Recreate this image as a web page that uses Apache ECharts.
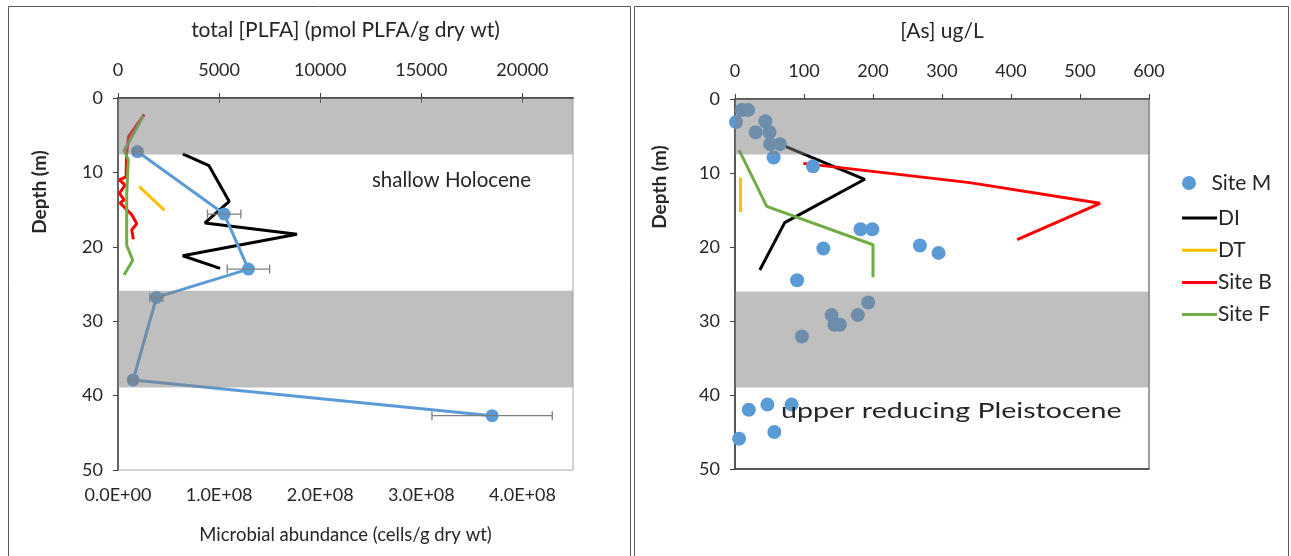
<!DOCTYPE html>
<html><head><meta charset="utf-8">
<script src="https://cdn.jsdelivr.net/npm/echarts@6/dist/echarts.min.js"></script>
<style>html,body{margin:0;padding:0;background:#fff}#c{width:1291px;height:556px}</style>
</head><body><div id="c"></div>
<script>
// ---------- Left panel data ----------
const siteM_cells = [1.92e7, 1.05e8, 1.29e8, 3.8e7, 1.5e7, 3.70e8];
const siteM_cellsDepth = [7.2, 15.6, 23.0, 26.8, 37.9, 42.7];
const siteM_cellsErr = [0.4e7, 1.65e7, 2.1e7, 0.65e7, 0.4e7, 5.95e7];

const DI_plfa = [3200, 4500, 5500, 4300, 8850, 3200, 5050];
const DI_plfaDepth = [7.5, 9.1, 13.9, 16.8, 18.3, 21.2, 22.9];
const DT_plfa = [1050, 2300];
const DT_plfaDepth = [11.9, 15.1];
const B_plfa = [1300, 520, 420, 400, 70, 350, 70, 300, 100, 680, 930, 680, 760];
const B_plfaDepth = [2.2, 5.2, 7.7, 10.6, 11.0, 11.7, 12.8, 13.7, 14.1, 15.7, 16.9, 17.7, 19.0];
const F_plfa = [1250, 510, 300, 510, 430, 430, 730, 300];
const F_plfaDepth = [2.4, 6.1, 7.0, 8.3, 13.0, 19.8, 21.8, 23.8];

const bandsLeft = [[0, 7.6], [25.9, 38.9]];
const plfaTicks = ['0', '5000', '10000', '15000', '20000'];
const cellTicks = ['0.0E+00', '1.0E+08', '2.0E+08', '3.0E+08', '4.0E+08'];
const depthTicks = ['0', '10', '20', '30', '40', '50'];

// ---------- Right panel data ----------
const siteM_as = [10, 19, 1.5, 44, 30, 50, 51, 65, 56, 113, 182, 199, 128, 268, 295, 90, 193, 140, 178, 144, 152, 97, 20, 47, 82, 57, 6];
const siteM_asDepth = [1.5, 1.5, 3.1, 3.0, 4.5, 4.5, 6.1, 6.1, 7.9, 9.1, 17.6, 17.6, 20.2, 19.8, 20.8, 24.5, 27.5, 29.2, 29.2, 30.5, 30.5, 32.1, 42.0, 41.3, 41.3, 45.0, 45.9];
const DI_as = [65, 188, 72, 36];
const DI_asDepth = [6.1, 10.85, 16.7, 23.1];
const DT_as = [8, 8];
const DT_asDepth = [10.6, 15.3];
const B_as = [99, 340, 529, 409];
const B_asDepth = [8.7, 11.3, 14.1, 19.0];
const F_as = [6, 46, 200, 200];
const F_asDepth = [6.9, 14.5, 19.7, 24.1];
const bandsRight = [[0, 7.5], [26, 39]];
const asTicks = ['0', '100', '200', '300', '400', '500', '600'];

const FONT = 'Lato';
const TXT = '#262626';
const AX = '#404040';
const BAND = 'rgba(128,128,128,0.5)';
const BLUE = '#5B9BD5';

function pairs(xs, ys) { return xs.map((x, i) => [x, ys[i]]); }
function bandData(b) { return b.map(r => [{ yAxis: r[0] }, { yAxis: r[1] }]); }

const chart = echarts.init(document.getElementById('c'), null, { renderer: 'canvas' });

const labelBase = { fontFamily: FONT, fontSize: 18, color: TXT };

const option = {
  animation: false,
  backgroundColor: '#fff',
  textStyle: { fontFamily: FONT },
  grid: [
    { left: 118, top: 98, width: 455, height: 372, show: true, borderColor: '#a6a6a6', borderWidth: 1, backgroundColor: 'transparent' },
    { left: 735, top: 99, width: 414, height: 370, show: true, borderColor: '#404040', borderWidth: 1, backgroundColor: 'transparent' }
  ],
  xAxis: [
    { // 0 bottom cells
      type: 'value', gridIndex: 0, position: 'bottom', min: 0, max: 4.5e8, interval: 1e8,
      name: 'Microbial abundance (cells/g dry wt)', nameLocation: 'middle', nameGap: 56,
      nameTextStyle: { fontFamily: FONT, fontSize: 18.5, color: TXT },
      axisLine: { show: true, lineStyle: { color: AX, width: 1.5 } },
      axisTick: { show: true, length: 5, lineStyle: { color: AX } },
      splitLine: { show: false },
      axisLabel: Object.assign({}, labelBase, { margin: 16, showMaxLabel: false,
        formatter: v => cellTicks[Math.round(v / 1e8)] || '' })
    },
    { // 1 top plfa
      type: 'value', gridIndex: 0, position: 'top', min: 0, max: 22500, interval: 5000,
      name: 'total [PLFA] (pmol PLFA/g dry wt)', nameLocation: 'middle', nameGap: 57,
      nameTextStyle: { fontFamily: FONT, fontSize: 21, color: TXT },
      axisLine: { show: true, lineStyle: { color: AX, width: 1.5 } },
      axisTick: { show: true, length: 5, lineStyle: { color: AX } },
      splitLine: { show: false },
      axisLabel: Object.assign({}, labelBase, { margin: 19, showMaxLabel: false,
        formatter: v => plfaTicks[Math.round(v / 5000)] || '' })
    },
    { // 2 top As
      type: 'value', gridIndex: 1, position: 'top', min: 0, max: 600, interval: 100,
      name: '[As] ug/L', nameLocation: 'middle', nameGap: 57,
      nameTextStyle: { fontFamily: FONT, fontSize: 21, color: TXT },
      axisLine: { show: true, lineStyle: { color: AX, width: 1.5 } },
      axisTick: { show: true, length: 5, lineStyle: { color: AX } },
      splitLine: { show: false },
      axisLabel: Object.assign({}, labelBase, { margin: 19,
        formatter: v => asTicks[Math.round(v / 100)] || '' })
    },
    { // 3 bottom As (line only)
      type: 'value', gridIndex: 1, position: 'bottom', min: 0, max: 600, interval: 100,
      axisLine: { show: true, lineStyle: { color: AX, width: 1.5 } },
      axisTick: { show: false }, axisLabel: { show: false }, splitLine: { show: false }
    }
  ],
  yAxis: [
    {
      type: 'value', gridIndex: 0, inverse: true, min: 0, max: 50, interval: 10,
      axisLine: { show: true, lineStyle: { color: AX, width: 1.5 } },
      axisTick: { show: true, length: 5, lineStyle: { color: AX } },
      splitLine: { show: false },
      axisLabel: Object.assign({}, labelBase, { margin: 15,
        formatter: v => depthTicks[Math.round(v / 10)] || '' })
    },
    {
      type: 'value', gridIndex: 1, inverse: true, min: 0, max: 50, interval: 10,
      axisLine: { show: true, lineStyle: { color: AX, width: 1.5 } },
      axisTick: { show: true, length: 5, lineStyle: { color: AX } },
      splitLine: { show: false },
      axisLabel: Object.assign({}, labelBase, { margin: 15,
        formatter: v => depthTicks[Math.round(v / 10)] || '' })
    }
  ],
  legend: [
    {
      data: [{ name: 'Site M', icon: 'circle' }],
      left: 1177, top: 166, itemWidth: 35, itemHeight: 14, symbolKeepAspect: true,
      textStyle: { fontFamily: FONT, fontSize: 21, color: TXT, lineHeight: 24 }
    },
    {
      data: [{ name: 'DI', icon: 'rect' }, { name: 'DT', icon: 'rect' }, { name: 'Site B', icon: 'rect' }, { name: 'Site F', icon: 'rect' }],
      orient: 'vertical', left: 1177, top: 201, itemWidth: 35, itemHeight: 3, itemGap: 8.2,
      symbolKeepAspect: false,
      textStyle: { fontFamily: FONT, fontSize: 21, color: TXT, lineHeight: 24, padding: [0, 0, 0, -4] }
    }
  ],
  graphic: [
    { type: 'rect', shape: { x: 8.5, y: 6.5, width: 622, height: 560 }, style: { fill: 'none', stroke: '#595959', lineWidth: 1 }, z: 0 },
    { type: 'rect', shape: { x: 634.5, y: 6.5, width: 654, height: 560 }, style: { fill: 'none', stroke: '#595959', lineWidth: 1 }, z: 0 },
    { type: 'text', x: 40, y: 192, rotation: Math.PI / 2, style: { text: 'Depth (m)', fontFamily: FONT, fontSize: 19, fontWeight: 'bold', fill: TXT, align: 'center', verticalAlign: 'middle' } },
    { type: 'text', x: 660, y: 187, rotation: Math.PI / 2, style: { text: 'Depth (m)', fontFamily: FONT, fontSize: 19, fontWeight: 'bold', fill: TXT, align: 'center', verticalAlign: 'middle' } },
    { type: 'text', x: 531, y: 180, style: { text: 'shallow Holocene', fontFamily: FONT, fontSize: 20.5, fill: TXT, align: 'right', verticalAlign: 'middle' }, z: 20 },
    { type: 'text', x: 781, y: 411, scaleX: 1.3, style: { text: 'upper reducing Pleistocene', fontFamily: FONT, fontSize: 22, fill: TXT, align: 'left', verticalAlign: 'middle' }, z: 20 }
  ],
  series: [
    // ----- left panel -----
    { name: 'Site B', type: 'line', xAxisIndex: 1, yAxisIndex: 0, data: pairs(B_plfa, B_plfaDepth), showSymbol: false, symbol: 'none', lineStyle: { color: '#FF0000', width: 3 }, itemStyle: { color: '#FF0000' }, z: 2 },
    { name: 'Site F', type: 'line', xAxisIndex: 1, yAxisIndex: 0, data: pairs(F_plfa, F_plfaDepth), showSymbol: false, symbol: 'none', lineStyle: { color: '#70AD47', width: 3 }, itemStyle: { color: '#70AD47' }, z: 2 },
    { name: 'DI', type: 'line', xAxisIndex: 1, yAxisIndex: 0, data: pairs(DI_plfa, DI_plfaDepth), showSymbol: false, symbol: 'none', lineStyle: { color: '#000000', width: 3 }, itemStyle: { color: '#000000' }, z: 2 },
    { name: 'DT', type: 'line', xAxisIndex: 1, yAxisIndex: 0, data: pairs(DT_plfa, DT_plfaDepth), showSymbol: false, symbol: 'none', lineStyle: { color: '#FFC000', width: 3 }, itemStyle: { color: '#FFC000' }, z: 2 },
    { name: 'Site M cells', type: 'line', xAxisIndex: 0, yAxisIndex: 0, data: pairs(siteM_cells, siteM_cellsDepth), symbol: 'circle', symbolSize: 13, lineStyle: { color: BLUE, width: 3 }, itemStyle: { color: BLUE }, z: 3 },
    { name: 'err', type: 'custom', xAxisIndex: 0, yAxisIndex: 0, z: 4,
      data: siteM_cells.map((v, i) => [v, siteM_cellsDepth[i], v - siteM_cellsErr[i], v + siteM_cellsErr[i]]),
      encode: { x: [0, 2, 3], y: 1 },
      renderItem: function (params, api) {
        const y = api.value(1);
        const p1 = api.coord([api.value(2), y]);
        const p2 = api.coord([api.value(3), y]);
        const h = 4.5;
        const st = { stroke: '#7f7f7f', lineWidth: 1.3 };
        return { type: 'group', children: [
          { type: 'line', shape: { x1: p1[0], y1: p1[1], x2: p2[0], y2: p2[1] }, style: st },
          { type: 'line', shape: { x1: p1[0], y1: p1[1] - h, x2: p1[0], y2: p1[1] + h }, style: st },
          { type: 'line', shape: { x1: p2[0], y1: p2[1] - h, x2: p2[0], y2: p2[1] + h }, style: st }
        ] };
      }
    },
    { name: 'bandsL', type: 'line', xAxisIndex: 0, yAxisIndex: 0, data: [], z: 10, silent: true,
      markArea: { silent: true, z: 10, itemStyle: { color: BAND }, data: bandData(bandsLeft) } },
    // ----- right panel -----
    { name: 'DI', type: 'line', xAxisIndex: 2, yAxisIndex: 1, data: pairs(DI_as, DI_asDepth), showSymbol: false, symbol: 'none', lineStyle: { color: '#000000', width: 3 }, itemStyle: { color: '#000000' }, z: 2 },
    { name: 'DT', type: 'line', xAxisIndex: 2, yAxisIndex: 1, data: pairs(DT_as, DT_asDepth), showSymbol: false, symbol: 'none', lineStyle: { color: '#FFC000', width: 3 }, itemStyle: { color: '#FFC000' }, z: 2 },
    { name: 'Site B', type: 'line', xAxisIndex: 2, yAxisIndex: 1, data: pairs(B_as, B_asDepth), showSymbol: false, symbol: 'none', lineStyle: { color: '#FF0000', width: 3 }, itemStyle: { color: '#FF0000' }, z: 2 },
    { name: 'Site F', type: 'line', xAxisIndex: 2, yAxisIndex: 1, data: pairs(F_as, F_asDepth), showSymbol: false, symbol: 'none', lineStyle: { color: '#70AD47', width: 3 }, itemStyle: { color: '#70AD47' }, z: 2 },
    { name: 'Site M', type: 'scatter', xAxisIndex: 2, yAxisIndex: 1, data: pairs(siteM_as, siteM_asDepth), symbol: 'circle', symbolSize: 14, itemStyle: { color: BLUE, opacity: 1 }, z: 3 },
    { name: 'bandsR', type: 'line', xAxisIndex: 2, yAxisIndex: 1, data: [], z: 10, silent: true,
      markArea: { silent: true, z: 10, itemStyle: { color: BAND }, data: bandData(bandsRight) } }
  ]
};
chart.setOption(option);
</script>
</body></html>
